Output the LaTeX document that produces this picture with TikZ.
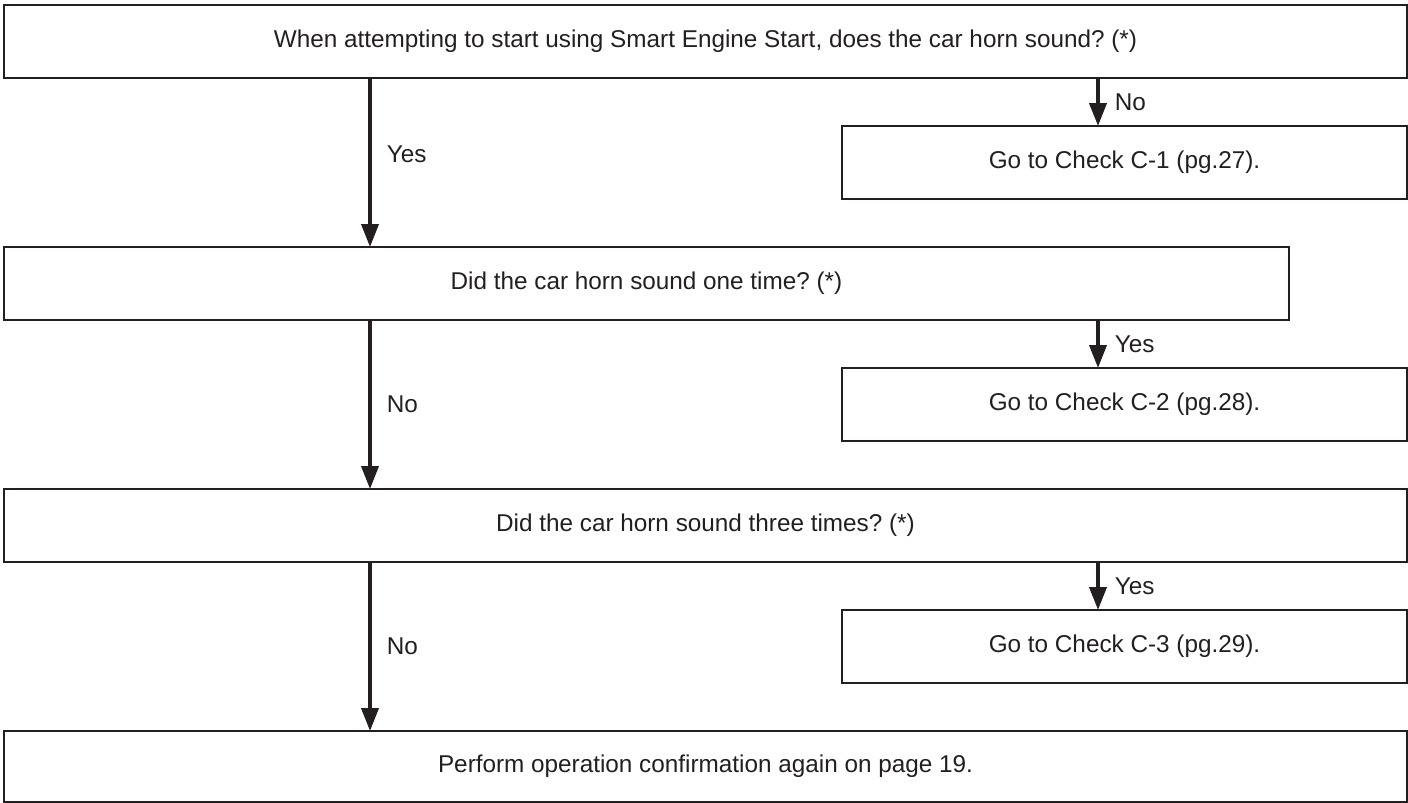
\documentclass[tikz,border=0pt]{standalone}
\usepackage{fontspec}
\setmainfont{Liberation Sans}
\usetikzlibrary{arrows.meta,positioning}
\definecolor{ink}{HTML}{231F20}
\frenchspacing
\tikzset{
  chart/.style={x=0.5pt, y=-0.5pt},
  qbox/.style={draw=ink, line width=1.25pt, anchor=north west, inner sep=0pt, outer sep=0pt,
    minimum height=36.5pt, text=ink, font=\fontsize{12.15pt}{14pt}\selectfont},
  widebox/.style={qbox, minimum width=701.5pt},
  gobox/.style={qbox, minimum width=282.5pt},
  flow/.style={draw=ink, line width=1.9pt, -{Triangle[width=8.5pt,length=11.5pt]}},
  ans/.style={right=7.5pt, inner sep=0pt, text=ink, font=\fontsize{12.15pt}{14pt}\selectfont}
}
\begin{document}
\begin{tikzpicture}[chart]
\useasboundingbox (0,0) rectangle (1408,803);

% questions down the left
\node[widebox] (q1) at (4,5) {When attempting to start using Smart Engine Start, does the car horn sound? (*)};
\node[qbox, minimum width=642.5pt] (q2) at (4,247) {Did the car horn sound one time? (*)};
\node[widebox] (q3) at (4,489) {Did the car horn sound three times? (*)};
\node[widebox, minimum height=35.5pt] (redo) at (4,731) {Perform operation confirmation again on page 19.};

% checks on the right
\node[gobox] (c1) at (842,126) {Go to Check C-1 (pg.27).};
\node[gobox] (c2) at (842,368) {Go to Check C-2 (pg.28).};
\node[gobox] (c3) at (842,610) {Go to Check C-3 (pg.29).};

% arrow columns
\coordinate (lcol) at (370,0);
\coordinate (rcol) at (1098,0);

% main line
\draw[flow] (q1.south -| lcol) -- node[ans, pos=0.45] {Yes} (q2.north -| lcol);
\draw[flow] (q2.south -| lcol) -- node[ans] {No} (q3.north -| lcol);
\draw[flow] (q3.south -| lcol) -- node[ans] {No} (redo.north -| lcol);

% branches
\draw[flow] (q1.south -| rcol) -- node[ans] {No} (c1.north -| rcol);
\draw[flow] (q2.south -| rcol) -- node[ans] {Yes} (c2.north -| rcol);
\draw[flow] (q3.south -| rcol) -- node[ans] {Yes} (c3.north -| rcol);
\end{tikzpicture}
\end{document}
